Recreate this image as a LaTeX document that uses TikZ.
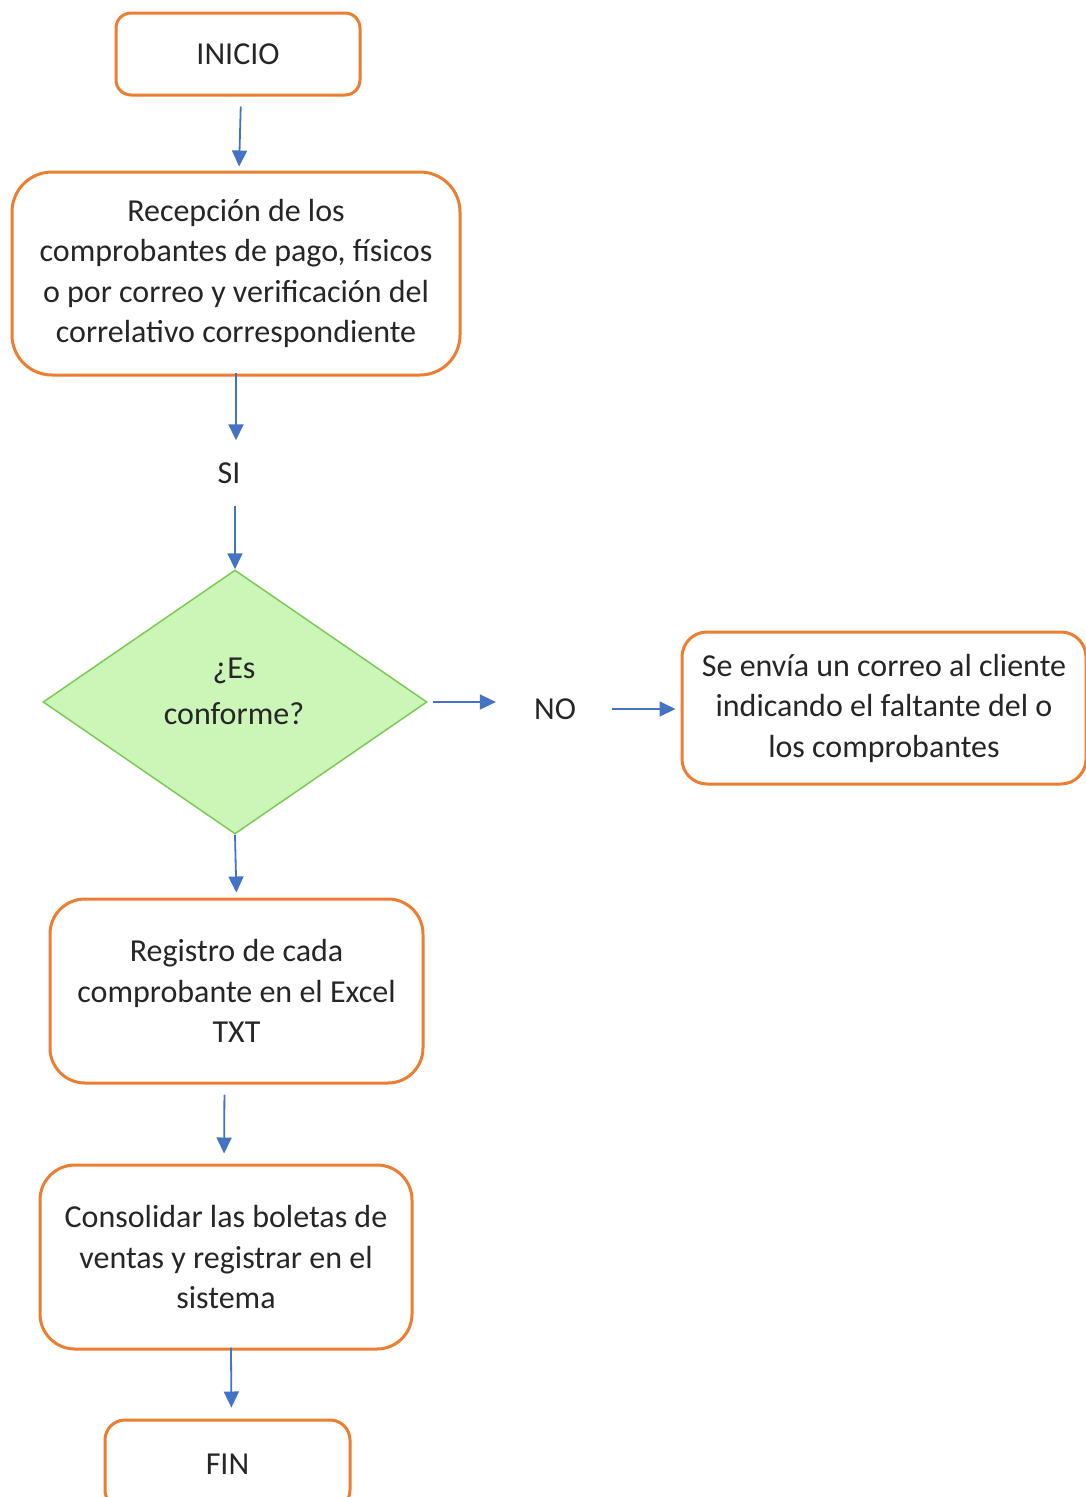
\documentclass[tikz,border=0pt]{standalone}
\usepackage{fontspec}
\setmainfont{Carlito}
\usetikzlibrary{arrows.meta,shapes.geometric}
\definecolor{boxorange}{HTML}{ED7D31}
\definecolor{arrblue}{HTML}{4472C4}
\definecolor{dfill}{HTML}{CCF5B8}
\definecolor{dline}{HTML}{7CC95A}
\tikzset{
  box/.style={draw=boxorange, line width=3pt, fill=white, inner sep=0pt, align=center,
              font=\fontsize{32}{40.5}\selectfont, text=black!85},
  dec/.style={draw=dline, line width=1.5pt, fill=dfill, diamond, aspect=1.4545, inner sep=0pt,
              minimum width=384pt, minimum height=264pt},
  lbl/.style={inner sep=0pt, align=center, font=\fontsize{32}{46}\selectfont, text=black!85},
  arr/.style={draw=arrblue, line width=1.8pt, -{Triangle[length=16pt,width=15pt]}},
}
\begin{document}
\begin{tikzpicture}[x=1pt,y=-1pt]
\useasboundingbox (0,0) rectangle (1086,1497);
\node[box, rounded corners=15pt, minimum width=244pt, minimum height=82pt] (inicio) at (238,54) {INICIO};
\node[box, rounded corners=40pt, minimum width=448pt, minimum height=203pt] (recep) at (236,273.5)
  {Recepción de los\\comprobantes de pago, físicos\\o por correo y verificación del\\correlativo correspondiente};
\node[lbl] (si) at (229,473) {SI};
\node[dec] (dia) at (235,702) {};
\node[lbl] (dlab) at (234,691) {¿Es\\conforme?};
\node[lbl] (no) at (555,709) {NO};
\node[box, rounded corners=25pt, minimum width=404pt, minimum height=152pt] (envia) at (884,708)
  {Se envía un correo al cliente\\indicando el faltante del o\\los comprobantes};
\node[box, rounded corners=35pt, minimum width=373pt, minimum height=184pt] (regis) at (236.5,991)
  {Registro de cada\\comprobante en el Excel\\TXT};
\node[box, rounded corners=35pt, minimum width=372pt, minimum height=184pt] (conso) at (226,1257)
  {Consolidar las boletas de\\ventas y registrar en el\\sistema};
\node[box, rounded corners=20pt, minimum width=245pt, minimum height=90pt] (fin) at (227.5,1465) {};
\node[lbl] (fintext) at (227.5,1464) {FIN};

\draw[arr, shorten <=10pt, shorten >=4pt] ([xshift=3pt]inicio.south) -- ([xshift=3pt]recep.north);
\draw[arr, shorten <=-4pt, shorten >=22pt] (recep.south) -- (recep.south |- si.north);
\draw[arr, shorten <=22pt, shorten >=0pt] (dia.north |- si.south) -- (dia.north);
\draw[arr, shorten <=0pt, shorten >=5pt] (dia.south) -- (regis.north);
\draw[arr, shorten <=5pt, shorten >=38pt] (dia.east) -- (no.west |- dia.east);
\draw[arr, shorten <=36pt, shorten >=5pt] (no.east) -- (envia.west |- no.east);
\draw[arr, shorten <=10pt, shorten >=10pt] ([xshift=-12pt]regis.south) -- ([xshift=-2pt]conso.north);
\draw[arr, shorten <=-3pt, shorten >=11pt] ([xshift=5pt]conso.south) -- ([xshift=4pt]fin.north);
\end{tikzpicture}
\end{document}
